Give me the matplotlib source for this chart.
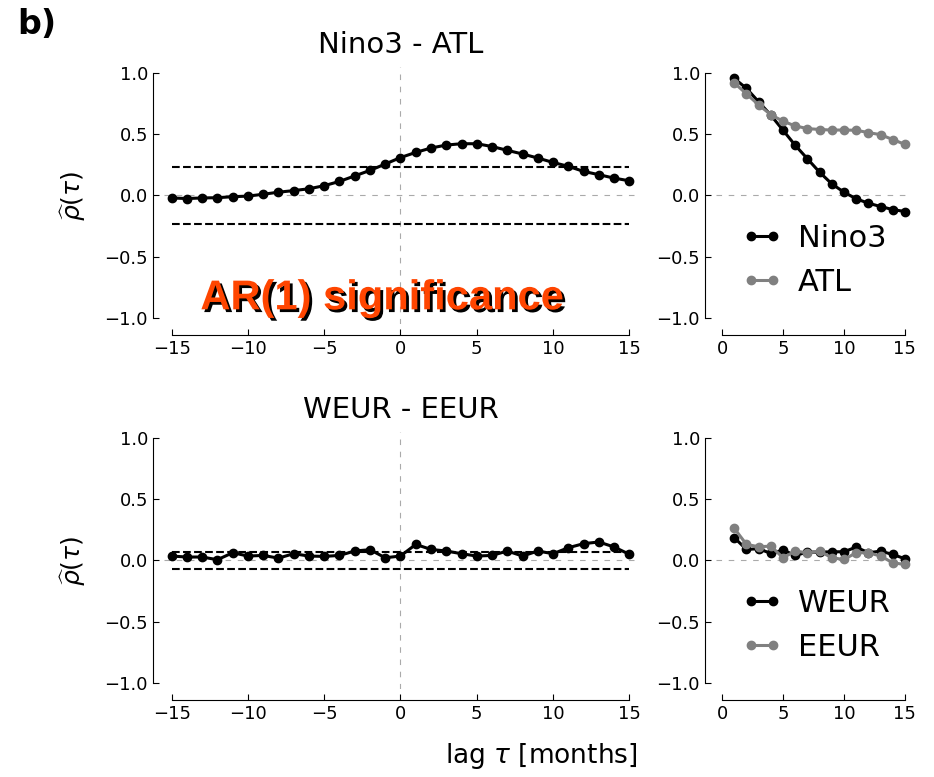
import matplotlib
matplotlib.use("Agg")
import matplotlib.pyplot as plt
import matplotlib.patheffects as pe
import numpy as np

# ── data ──────────────────────────────────────────────────────────────────────
lags = np.arange(-15, 16)
auto_lags = np.arange(1, 16)

nino_atl_xcorr = [-0.02, -0.025, -0.02, -0.018, -0.01, -0.005, 0.01, 0.027, 0.04, 0.055,
                  0.08, 0.115, 0.16, 0.205, 0.257, 0.31, 0.352, 0.388, 0.412, 0.423,
                  0.423, 0.40, 0.369, 0.339, 0.306, 0.27, 0.238, 0.197, 0.17, 0.142, 0.12]
nino_atl_sig = 0.232

nino3_auto = [0.956, 0.875, 0.765, 0.656, 0.533, 0.41, 0.30, 0.19, 0.095, 0.027,
              -0.027, -0.063, -0.09, -0.115, -0.131]
atl_auto = [0.92, 0.83, 0.74, 0.66, 0.607, 0.568, 0.547, 0.539, 0.535, 0.535,
            0.533, 0.514, 0.497, 0.457, 0.418]

weur_eeur_xcorr = [0.036, 0.028, 0.028, 0.006, 0.063, 0.036, 0.041, 0.019, 0.055, 0.036,
                   0.033, 0.041, 0.077, 0.088, 0.022, 0.036, 0.131, 0.09, 0.077, 0.055,
                   0.036, 0.041, 0.077, 0.036, 0.077, 0.055, 0.104, 0.137, 0.151, 0.11, 0.05]
weur_eeur_sig = 0.072

weur_auto = [0.186, 0.09, 0.096, 0.057, 0.085, 0.041, 0.068, 0.068, 0.071, 0.071,
             0.109, 0.063, 0.076, 0.049, 0.014]
eeur_auto = [0.262, 0.131, 0.112, 0.117, 0.022, 0.076, 0.063, 0.076, 0.022, 0.008,
             0.063, 0.063, 0.036, -0.019, -0.033]

GRAY = "#808080"
ZERO = "#aaaaaa"
OFFSET = 8  # points


def style_axes(ax, xticks):
    ax.set_ylim(-1.05, 1.05)
    ax.set_yticks([-1.0, -0.5, 0.0, 0.5, 1.0])
    ax.set_xticks(xticks)
    ax.spines["top"].set_visible(False)
    ax.spines["right"].set_visible(False)
    ax.spines["left"].set_position(("outward", OFFSET))
    ax.spines["bottom"].set_position(("outward", OFFSET))
    ax.spines["left"].set_bounds(-1, 1)
    ax.spines["bottom"].set_bounds(xticks[0], xticks[-1])
    ax.tick_params(direction="in", labelsize=13, length=4)
    ax.axhline(0, color=ZERO, lw=0.8, ls=(0, (5, 6)), zorder=0)


def xcorr_panel(ax, vals, sig, title):
    ax.set_xlim(-15.5, 15.5)
    style_axes(ax, [-15, -10, -5, 0, 5, 10, 15])
    ax.axvline(0, color=ZERO, lw=0.8, ls=(0, (5, 6)), zorder=0)
    ax.plot([lags[0], lags[-1]], [sig, sig], "k--", lw=1.5)
    ax.plot([lags[0], lags[-1]], [-sig, -sig], "k--", lw=1.5)
    ax.plot(lags, vals, "o-", color="k", lw=2.2, ms=6, clip_on=False)
    ax.set_title(title, fontsize=21, pad=10)
    ax.set_ylabel(r"$\widehat{\rho}(\tau)$", fontsize=18, labelpad=12)


def auto_panel(ax, a, b, la, lb):
    ax.set_xlim(-0.5, 15.5)
    style_axes(ax, [0, 5, 10, 15])
    ax.plot(auto_lags, a, "o-", color="k", lw=2.2, ms=6, label=la, clip_on=False)
    ax.plot(auto_lags, b, "o-", color=GRAY, lw=2.2, ms=6, label=lb, clip_on=False)
    ax.legend(loc="upper left", bbox_to_anchor=(0.13, 0.39), frameon=False,
              fontsize=22, numpoints=2, handlelength=1.35, handletextpad=0.5,
              borderpad=0, borderaxespad=0, labelspacing=0.5)


fig = plt.figure(figsize=(9.34, 7.77), dpi=100, facecolor="white")
ax1 = fig.add_axes([0.1756, 0.583, 0.5064, 0.3308])
ax2 = fig.add_axes([0.7666, 0.583, 0.2088, 0.3308])
ax3 = fig.add_axes([0.1756, 0.1133, 0.5064, 0.3308])
ax4 = fig.add_axes([0.7666, 0.1133, 0.2088, 0.3308])

xcorr_panel(ax1, nino_atl_xcorr, nino_atl_sig, "Nino3 - ATL")
auto_panel(ax2, nino3_auto, atl_auto, "Nino3", "ATL")
xcorr_panel(ax3, weur_eeur_xcorr, weur_eeur_sig, "WEUR - EEUR")
auto_panel(ax4, weur_auto, eeur_auto, "WEUR", "EEUR")

ax1.text(-1.2, -0.84, "AR(1) significance", ha="center", va="center",
         fontsize=30, fontweight="bold", family="Liberation Sans", color="#ff4500",
         path_effects=[pe.withSimplePatchShadow(offset=(2, -2), shadow_rgbFace="k", alpha=1.0)])

fig.text(0.018, 0.99, "b)", fontsize=24, fontweight="bold", va="top", ha="left")
fig.text(0.579, 0.008, r"lag $\tau$ [months]", fontsize=19, ha="center", va="bottom")

plt.savefig("out.png", dpi=100)
